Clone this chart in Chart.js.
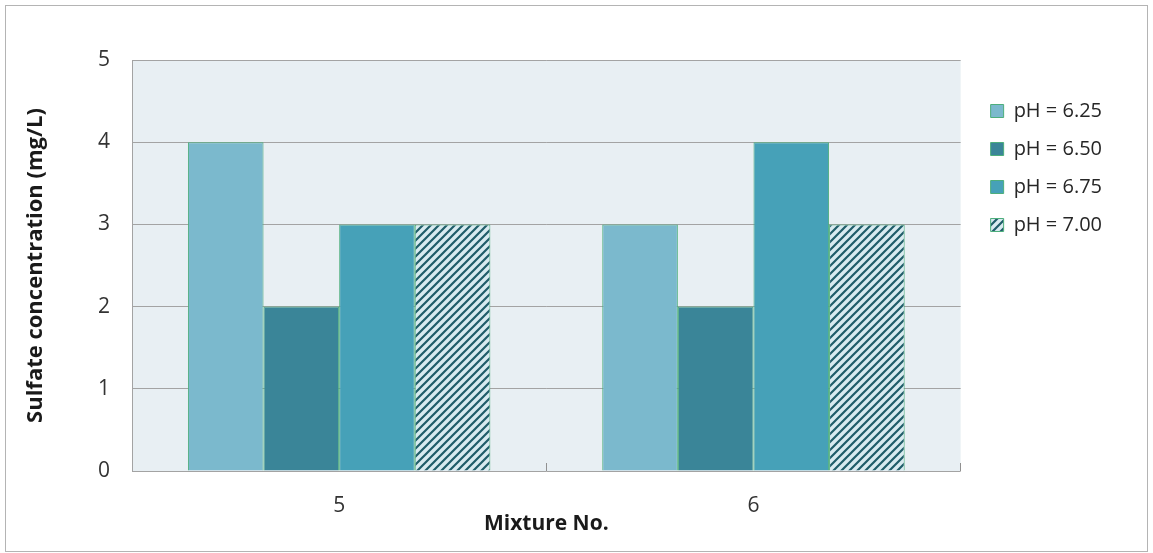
<!DOCTYPE html>
<html>
<head>
<meta charset="utf-8">
<script src="https://cdn.jsdelivr.net/npm/chart.js@4.4.1/dist/chart.umd.min.js"></script>
<style>
  html, body { margin: 0; background: #fff; }
  #wrap { width: 1153px; height: 553px; }
</style>
</head>
<body>
<div id="wrap"><canvas id="sulfateChart"></canvas></div>
<script>
const mixtures = ["5", "6"];
const seriesNames = ["pH = 6.25", "pH = 6.50", "pH = 6.75", "pH = 7.00"];
const ph625 = [4, 3];
const ph650 = [2, 2];
const ph675 = [3, 4];
const ph700 = [3, 3];
const yMin = 0, yMax = 5, yStep = 1;

// diagonal hatch for the pH 7.00 bars
function makeHatch() {
  const p = document.createElement("canvas");
  p.width = 8; p.height = 8;
  const g = p.getContext("2d");
  g.fillStyle = "#d8ebf0";
  g.fillRect(0, 0, 8, 8);
  g.strokeStyle = "#1f5d69";
  g.lineWidth = 2.2;
  g.beginPath();
  g.moveTo(-2, 10); g.lineTo(10, -2);
  g.moveTo(-2, 2); g.lineTo(2, -2);
  g.moveTo(6, 10); g.lineTo(10, 6);
  g.stroke();
  return g.createPattern(p, "repeat");
}

const ctx = document.getElementById("sulfateChart").getContext("2d");
const hatch = makeHatch();
const edge = "#4dae7c";

const plotBackground = {
  id: "plotBackground",
  beforeDraw(chart) {
    const {ctx, chartArea: a} = chart;
    ctx.save();
    ctx.fillStyle = "#e8eff3";
    ctx.fillRect(a.left, a.top, a.right - a.left, a.bottom - a.top);
    ctx.strokeStyle = "#b4b4b4";
    ctx.lineWidth = 1;
    ctx.strokeRect(5.5, 5.5, chart.width - 11, chart.height - 7);
    ctx.restore();
  }
};

const chart = new Chart(ctx, {
  type: "bar",
  data: {
    labels: mixtures,
    datasets: [
      {label: seriesNames[0], data: ph625, backgroundColor: "#7bb9cd"},
      {label: seriesNames[1], data: ph650, backgroundColor: "#3a8598"},
      {label: seriesNames[2], data: ph675, backgroundColor: "#46a1b8"},
      {label: seriesNames[3], data: ph700, backgroundColor: hatch}
    ].map(d => Object.assign(d, {
      borderColor: edge,
      borderWidth: 1,
      categoryPercentage: 0.73,
      barPercentage: 1
    }))
  },
  options: {
    responsive: true,
    maintainAspectRatio: false,
    animation: false,
    layout: {padding: {top: 60, left: 23, bottom: 16, right: 41}},
    scales: {
      x: {
        grid: {offset: true, drawOnChartArea: false, drawTicks: true, tickLength: -8, color: "#909090"},
        border: {display: false},
        ticks: {color: "#333", padding: 30, font: {family: "Open Sans", size: 21}},
        title: {display: true, text: "Mixture No.", color: "#1a1a1a", padding: 0,
                font: {family: "Open Sans", size: 21, weight: "bold"}},
        afterFit(s) { s.height = 66; }
      },
      y: {
        min: yMin,
        max: yMax,
        grid: {color: "#a3a3a3", drawTicks: false},
        border: {color: "#a3a3a3"},
        ticks: {stepSize: yStep, color: "#333", padding: 22, font: {family: "Open Sans", size: 21}},
        title: {display: true, text: "Sulfate concentration (mg/L)", color: "#1a1a1a", padding: 0,
                font: {family: "Open Sans", size: 22, weight: "bold"}},
        afterFit(s) { s.width = 109; }
      },
      gap: {
        type: "linear",
        position: "right",
        display: true,
        grid: {display: false},
        border: {display: false},
        ticks: {display: false},
        afterFit(s) { s.width = 12; }
      }
    },
    plugins: {
      legend: {
        position: "right",
        align: "start",
        fullSize: false,
        title: {display: true, text: "", padding: {top: 11, bottom: 0}, font: {size: 10}},
        labels: {
          boxWidth: 13,
          boxHeight: 13,
          padding: 18,
          color: "#262626",
          font: {family: "Open Sans", size: 20}
        }
      },
      tooltip: {enabled: false}
    }
  },
  plugins: [plotBackground]
});
</script>
</body>
</html>
